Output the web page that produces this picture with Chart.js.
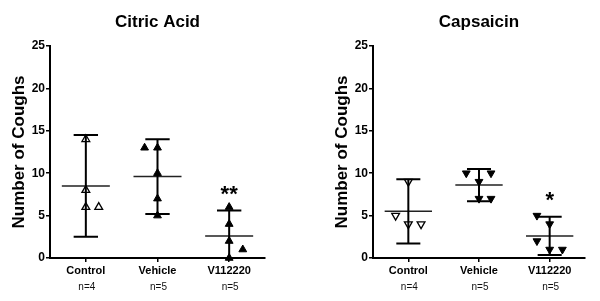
<!DOCTYPE html>
<html>
<head>
<meta charset="utf-8">
<script src="https://cdn.jsdelivr.net/npm/chart.js@4/dist/chart.umd.min.js"></script>
<style>
  body { margin: 0; background: #fff; }
  .wrap { display: flex; width: 600px; height: 301px; }
  .wrap div { width: 300px; height: 301px; }
</style>
</head>
<body>
<div class="wrap">
  <div><canvas id="citric" width="300" height="301"></canvas></div>
  <div><canvas id="caps" width="300" height="301"></canvas></div>
</div>
<script>
// categories and tick labels
const categories = ['Control', 'Vehicle', 'V112220'];
const groupN = ['n=4', 'n=5', 'n=5'];
const yTicks = [0, 5, 10, 15, 20, 25];

// Citric acid - coughs per animal, sideways shift of overlapping points (in category widths)
const citricControl = [14, 8, 6, 6];
const citricControlJitter = [0, 0, 0, 0.18];
const citricVehicle = [13, 13, 10, 7, 5];
const citricVehicleJitter = [-0.18, 0, 0, 0, 0];
const citricV112220 = [6, 4, 2, 1, 0];
const citricV112220Jitter = [0, 0, 0, 0.19, 0];
const citricMean = [8.5, 9.6, 2.6];
const citricLow = [2.5, 5.2, -0.4];
const citricHigh = [14.5, 14.0, 5.6];

// Capsaicin
const capsControl = [9, 5, 4, 4];
const capsControlJitter = [0, -0.18, 0, 0.18];
const capsVehicle = [10, 10, 9, 7, 7];
const capsVehicleJitter = [-0.18, 0.17, 0, 0, 0.17];
const capsV112220 = [5, 4, 2, 1, 1];
const capsV112220Jitter = [-0.18, 0, -0.18, 0, 0.18];
const capsMean = [5.5, 8.6, 2.6];
const capsLow = [1.7, 6.7, 0.35];
const capsHigh = [9.3, 10.5, 4.85];

const FONT = '"Liberation Sans", Arial, Helvetica, sans-serif';

// titres, n= et étoiles
const extras = {
  id: 'extras',
  afterDraw(chart, args, o) {
    const { ctx, chartArea, scales } = chart;
    ctx.save();
    ctx.fillStyle = '#000';
    ctx.textAlign = 'center';
    ctx.textBaseline = 'alphabetic';
    ctx.font = 'bold 17px ' + FONT;
    ctx.fillText(o.title, (chartArea.left + chartArea.right) / 2, 27);
    ctx.font = '10px ' + FONT;
    ctx.fillStyle = '#111';
    groupN.forEach((t, i) => ctx.fillText(t, scales.x.getPixelForValue(i) + 1, 290));
    ctx.fillStyle = '#000';
    ctx.font = 'bold 22px ' + FONT;
    ctx.fillText(o.star, scales.x.getPixelForValue(2), scales.y.getPixelForValue(o.high[2]) - 9.5);
    ctx.restore();
  }
};

function makeChart(id, title, star, groups, jitters, means, lows, highs, rotation, padLeft, padRight) {
  const datasets = [];

  groups.forEach((vals, g) => {
    datasets.push({
      type: 'scatter',
      data: vals.map((v, k) => ({ x: g + jitters[g][k], y: v })),
      pointStyle: 'triangle',
      rotation: rotation,
      pointRadius: 4.5,
      borderWidth: g === 0 ? 1.3 : 1,
      borderColor: '#000',
      backgroundColor: g === 0 ? 'rgba(0,0,0,0)' : '#000',
      clip: false
    });
  });

  // barres d'erreur : trait vertical + 2 chapeaux
  const err = [];
  means.forEach((m, i) => {
    err.push({ x: i, y: lows[i] }, { x: i, y: highs[i] }, { x: i, y: null });
    err.push({ x: i - 0.17, y: highs[i] }, { x: i + 0.17, y: highs[i] }, { x: i, y: null });
    err.push({ x: i - 0.17, y: lows[i] }, { x: i + 0.17, y: lows[i] }, { x: i, y: null });
  });
  datasets.push({
    type: 'line', data: err, borderColor: '#000', borderWidth: 2,
    pointRadius: 0, spanGaps: false, clip: 0
  });

  // moyennes
  const meanLines = [];
  means.forEach((m, i) => {
    meanLines.push({ x: i - 0.335, y: m }, { x: i + 0.335, y: m }, { x: i, y: null });
  });
  datasets.push({
    type: 'line', data: meanLines, borderColor: '#222', borderWidth: 1.5,
    pointRadius: 0, spanGaps: false
  });

  new Chart(document.getElementById(id), {
    type: 'scatter',
    data: { datasets },
    plugins: [extras],
    options: {
      responsive: false,
      animation: false,
      layout: { padding: { left: padLeft, right: padRight, top: 46, bottom: 0 } },
      scales: {
        x: {
          type: 'linear', min: -0.5, max: 2.5,
          afterBuildTicks: s => { s.ticks = categories.map((c, i) => ({ value: i })); },
          afterFit: s => { s.height = 43; },
          ticks: {
            callback: v => categories[v],
            color: '#000', autoSkip: false, maxRotation: 0, padding: 2,
            font: { family: FONT, size: 11, weight: 'bold' }
          },
          grid: { drawOnChartArea: false, tickLength: 4, color: '#000', lineWidth: 1.5 },
          border: { display: true, color: '#000', width: 2 }
        },
        y: {
          min: 0, max: 25,
          afterBuildTicks: s => { s.ticks = yTicks.map(v => ({ value: v })); },
          afterFit: s => { s.width = 45; },
          ticks: { color: '#000', padding: 1, font: { family: FONT, size: 12, weight: 'bold' } },
          grid: { drawOnChartArea: false, tickLength: 4, color: '#000', lineWidth: 1.5 },
          border: { display: true, color: '#000', width: 2 },
          title: {
            display: true, text: 'Number of Coughs', color: '#000',
            padding: { top: 4, bottom: 4 },
            font: { family: FONT, size: 17, weight: 'bold' }
          }
        }
      },
      plugins: {
        legend: { display: false },
        tooltip: { enabled: false },
        extras: { title: title, star: star, high: highs }
      }
    }
  });
}

makeChart('citric', 'Citric Acid', '**',
  [citricControl, citricVehicle, citricV112220],
  [citricControlJitter, citricVehicleJitter, citricV112220Jitter],
  citricMean, citricLow, citricHigh, 0, 5, 35);

makeChart('caps', 'Capsaicin', '*',
  [capsControl, capsVehicle, capsV112220],
  [capsControlJitter, capsVehicleJitter, capsV112220Jitter],
  capsMean, capsLow, capsHigh, 180, 28, 15);
</script>
</body>
</html>
